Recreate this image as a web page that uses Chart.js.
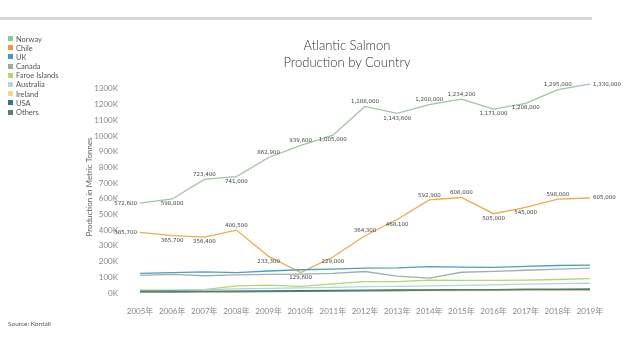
<!DOCTYPE html>
<html>
<head>
<meta charset="utf-8">
<script src="https://cdn.jsdelivr.net/npm/chart.js@4/dist/chart.umd.min.js"></script>
<style>
  html, body { margin: 0; padding: 0; background: #fff; }
  #wrap { position: relative; width: 640px; height: 340px; overflow: hidden; font-family: Lato, "Open Sans", "Noto Sans CJK SC", sans-serif; }
  #chart { position: absolute; left: 0; top: 0; }
  #topbar { position: absolute; left: 0; top: 17px; width: 592px; height: 3px; background: #d8d8d8; }
  #title { position: absolute; left: 247px; width: 200px; top: 37px; text-align: center; font-size: 13px; line-height: 17px; color: #333; font-weight: 300; }
  #legend { position: absolute; left: 8px; top: 34.5px; font-size: 7.5px; color: #555; }
  #legend div { height: 9.2px; line-height: 9.2px; white-space: nowrap; }
  #legend span.sw { display: inline-block; width: 5px; height: 5px; margin-right: 3px; vertical-align: middle; position: relative; top: -1px; }
  #source { position: absolute; left: 8px; top: 320px; font-size: 6.5px; color: #555; }
</style>
</head>
<body>
<div id="wrap">
  <canvas id="chart" width="640" height="340"></canvas>
  <div id="topbar"></div>
  <div id="title">Atlantic Salmon<br>Production by Country</div>
  <div id="legend"></div>
  <div id="source">Source: Kontali</div>
</div>
<script>
// ---- data ----
const years = ['2005年','2006年','2007年','2008年','2009年','2010年','2011年','2012年','2013年','2014年','2015年','2016年','2017年','2018年','2019年'];
const seriesNames = ['Norway','Chile','UK','Canada','Faroe Islands','Australia','Ireland','USA','Others'];
const norway   = [572600, 598800, 723400, 741000, 862900, 939600, 1005000, 1188000, 1143600, 1200000, 1234200, 1171000, 1208000, 1295000, 1330000];
const chile    = [385700, 365700, 356400, 400500, 233300, 129600, 229000, 364300, 468100, 592900, 608000, 505000, 545000, 598000, 605000];
const uk       = [125000, 130000, 135000, 130000, 140000, 148000, 152000, 158000, 160000, 168000, 165000, 163000, 170000, 175000, 178000];
const canada   = [112000, 118000, 110000, 116000, 118000, 120000, 125000, 137000, 108000, 95000, 132000, 138000, 145000, 152000, 158000];
const faroe    = [18000, 16000, 22000, 45000, 50000, 42000, 58000, 72000, 72000, 82000, 80000, 80000, 82000, 86000, 92000];
const australia= [16000, 18000, 22000, 26000, 30000, 32000, 36000, 40000, 42000, 45000, 48000, 52000, 56000, 60000, 62000];
const ireland  = [14000, 14000, 13000, 12000, 13000, 15000, 14000, 13000, 14000, 15000, 16000, 17000, 18000, 18000, 19000];
const usa      = [12000, 11000, 10000, 12000, 14000, 15000, 17000, 18000, 19000, 20000, 21000, 20000, 21000, 22000, 22000];
const others   = [5000, 6000, 7000, 8000, 9000, 10000, 12000, 14000, 16000, 18000, 20000, 22000, 24000, 25000, 26000];
const yTicks = [0,100000,200000,300000,400000,500000,600000,700000,800000,900000,1000000,1100000,1200000,1300000];

const values = [norway, chile, uk, canada, faroe, australia, ireland, usa, others];
const colors = ['#a2c4a2', '#e8ad4a', '#4f9fbd', '#a3adad', '#b8d46c', '#a9d6e3', '#f3d590', '#2f7b84', '#5f8066'];
const legendColors = ['#8cc98c', '#e99a3e', '#4a9cbd', '#9fa9a9', '#b5d46a', '#aed8e6', '#f5d48c', '#2f7b84', '#5f8066'];
const labelled = ['Norway', 'Chile'];

// legend
const lg = document.getElementById('legend');
seriesNames.forEach((n, i) => {
  const d = document.createElement('div');
  d.innerHTML = '<span class="sw" style="background:' + legendColors[i] + '"></span>' + n;
  lg.appendChild(d);
});

const datasets = seriesNames.map((n, i) => ({
  label: n,
  data: values[i],
  borderColor: colors[i],
  backgroundColor: colors[i],
  borderWidth: 1.3,
  pointRadius: 0,
  pointHoverRadius: 0,
  tension: 0,
  order: 9 - i
}));

const labelPlugin = {
  id: 'pointLabels',
  afterDatasetsDraw(chart) {
    const ctx = chart.ctx;
    ctx.save();
    ctx.font = '5.5px "DejaVu Sans", sans-serif';
    ctx.fillStyle = '#444';
    chart.data.datasets.forEach((ds, di) => {
      if (!labelled.includes(ds.label)) return;
      const meta = chart.getDatasetMeta(di);
      const d = ds.data;
      meta.data.forEach((pt, i) => {
        const txt = d[i].toLocaleString('en-US');
        let x = pt.x, y = pt.y;
        if (i === 0) {
          ctx.textAlign = 'right'; ctx.textBaseline = 'middle';
          x -= 3;
        } else if (i === d.length - 1) {
          ctx.textAlign = 'left'; ctx.textBaseline = 'middle';
          x += 3;
        } else {
          ctx.textAlign = 'center';
          const avg = (d[i - 1] + d[i + 1]) / 2;
          if (d[i] >= avg) { ctx.textBaseline = 'bottom'; y -= 2; }
          else { ctx.textBaseline = 'top'; y += 2; }
        }
        ctx.fillText(txt, x, y);
      });
    });
    ctx.restore();
  }
};

new Chart(document.getElementById('chart'), {
  type: 'line',
  data: { labels: years, datasets },
  options: {
    responsive: false,
    animation: false,
    devicePixelRatio: 1,
    layout: { padding: { left: 81, right: 34, top: 81, bottom: 17 } },
    plugins: { legend: { display: false }, title: { display: false }, tooltip: { enabled: false } },
    scales: {
      x: {
        offset: true,
        grid: { display: false, drawTicks: false },
        border: { display: false },
        ticks: { padding: 14, color: '#888', font: { size: 8, family: 'Lato, "Noto Sans CJK SC", sans-serif' }, maxRotation: 0, autoSkip: false },
        afterFit(s) { s.height = 30; }
      },
      y: {
        min: 0, max: 1350000,
        grid: { display: false, drawTicks: false },
        border: { display: false },
        afterBuildTicks(s) { s.ticks = yTicks.map(v => ({ value: v })); },
        ticks: { padding: 6, color: '#888', font: { size: 8, family: 'Lato, sans-serif' }, callback: v => (v / 1000) + 'K' },
        title: { display: true, text: 'Production in Metric Tonnes', color: '#666', font: { size: 8, family: 'Lato, sans-serif' }, padding: { top: 4, bottom: 4 } },
        afterFit(s) { s.width = 43; }
      }
    }
  },
  plugins: [labelPlugin]
});
</script>
</body>
</html>
